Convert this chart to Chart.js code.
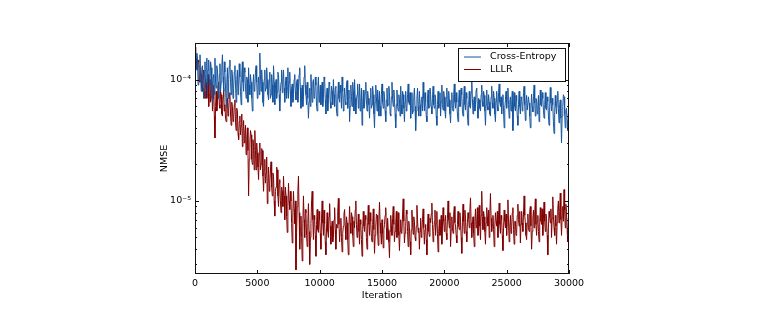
<!DOCTYPE html>
<html>
<head>
<meta charset="utf-8">
<script src="https://cdn.jsdelivr.net/npm/chart.js@4"></script>
<style>
  html, body { margin: 0; padding: 0; background: #fff; }
  #wrap { width: 762px; height: 326px; }
</style>
</head>
<body>
<div id="wrap"><canvas id="chart" width="762" height="326"></canvas></div>
<script>
// NMSE per iteration, one sample every 50 iterations, in units of 1e-6
// (one row = 1000 iterations)
const STEP = 50;
const crossEntropy = [
  185, 140, 120, 165, 150, 90, 95, 130, 160, 110, 80, 125, 130, 85, 70, 115, 140, 90, 100, 150,
  75, 120, 145, 100, 90, 140, 125, 80, 65, 105, 110, 75, 150, 95, 85, 130, 120, 90, 70, 110,
  135, 80, 95, 125, 160, 105, 80, 140, 115, 85, 60, 95, 125, 70, 100, 130, 145, 95, 75, 120,
  110, 70, 85, 115, 130, 90, 65, 100, 120, 75, 90, 135, 105, 80, 62, 110, 140, 95, 80, 125,
  115, 85, 70, 105, 100, 65, 125, 90, 75, 110, 95, 70, 55, 90, 110, 80, 85, 115, 130, 95,
  70, 90, 105, 75, 165, 110, 80, 120, 95, 65, 60, 100, 120, 80, 85, 125, 100, 75, 68, 95,
  115, 70, 75, 110, 90, 65, 130, 95, 62, 85, 100, 70, 80, 115, 110, 75, 55, 80, 95, 120,
  78, 100, 120, 85, 65, 90, 105, 70, 85, 125, 70, 95, 115, 80, 60, 85, 92, 65, 75, 100,
  110, 80, 68, 95, 100, 65, 80, 110, 125, 85, 58, 75, 90, 60, 72, 105, 130, 90, 75, 62,
  95, 70, 48, 65, 85, 60, 110, 80, 65, 95, 100, 70, 72, 105, 90, 60, 55, 85, 105, 65,
  75, 90, 62, 80, 95, 60, 70, 105, 100, 68, 52, 75, 85, 55, 68, 95, 92, 65, 58, 88,
  80, 62, 100, 75, 60, 85, 88, 55, 50, 72, 95, 70, 65, 90, 78, 58, 105, 80, 55, 70,
  85, 65, 62, 90, 98, 58, 70, 82, 45, 60, 90, 72, 60, 95, 80, 55, 100, 70, 52, 68,
  75, 92, 58, 70, 92, 55, 65, 85, 42, 62, 82, 58, 60, 78, 95, 68, 55, 80, 70, 62,
  48, 70, 85, 58, 62, 88, 75, 52, 40, 65, 90, 72, 55, 82, 68, 50, 80, 60, 50, 75,
  92, 65, 58, 80, 72, 55, 45, 68, 85, 60, 62, 88, 78, 52, 50, 72, 95, 68, 60, 82,
  70, 52, 40, 62, 82, 60, 55, 75, 68, 50, 88, 62, 52, 80, 75, 58, 45, 65, 80, 55,
  58, 75, 92, 65, 62, 78, 48, 60, 78, 52, 55, 72, 85, 60, 38, 55, 70, 85, 60, 50,
  80, 62, 50, 68, 72, 55, 95, 70, 55, 78, 65, 50, 45, 70, 82, 58, 60, 85, 75, 60,
  52, 70, 88, 62, 58, 75, 70, 50, 42, 62, 80, 58, 62, 78, 50, 66, 90, 62, 56, 80,
  72, 55, 48, 70, 85, 60, 60, 80, 68, 52, 44, 65, 78, 58, 55, 75, 92, 65, 58, 78,
  65, 52, 45, 68, 82, 60, 60, 85, 75, 55, 50, 70, 88, 62, 56, 78, 70, 52, 42, 62,
  80, 60, 58, 78, 100, 70, 52, 65, 72, 55, 62, 82, 85, 60, 48, 70, 68, 58, 55, 75,
  90, 66, 60, 80, 74, 55, 42, 62, 82, 60, 56, 75, 65, 52, 50, 72, 88, 64, 58, 80,
  70, 52, 45, 66, 80, 60, 55, 78, 92, 65, 60, 72, 52, 68, 75, 55, 40, 58, 68, 80,
  58, 70, 85, 62, 48, 65, 72, 55, 62, 80, 38, 56, 78, 60, 55, 74, 66, 50, 42, 62,
  80, 60, 52, 72, 70, 55, 60, 78, 88, 62, 46, 65, 74, 56, 56, 72, 64, 50, 40, 58,
  76, 60, 54, 72, 90, 64, 50, 70, 68, 52, 58, 74, 45, 60, 82, 62, 60, 78, 70, 56,
  48, 62, 78, 58, 56, 72, 66, 50, 42, 60, 86, 64, 55, 70, 62, 45, 36, 52, 74, 60,
  52, 66, 80, 58, 44, 62, 68, 48, 30, 50, 60, 75, 72, 52, 40, 55, 58, 46, 38, 52, 45
];
const lllr = [
  185, 165, 150, 125, 120, 145, 140, 100, 95, 120, 110, 85, 80, 105, 120, 80, 70, 100, 95, 70,
  85, 110, 60, 75, 100, 65, 72, 95, 55, 70, 90, 50, 33, 60, 80, 55, 65, 90, 95, 62,
  58, 80, 75, 52, 50, 72, 85, 55, 62, 48, 45, 68, 70, 50, 55, 75, 78, 52, 42, 65,
  60, 45, 48, 62, 68, 44, 38, 58, 55, 36, 32, 45, 50, 35, 42, 52, 28, 38, 46, 30,
  36, 42, 24, 32, 40, 26, 11, 22, 30, 38, 35, 22, 20, 32, 28, 18, 38, 26, 18, 30,
  25, 19, 15, 24, 30, 18, 20, 27, 26, 16, 12, 18, 22, 14, 17, 23, 9.5, 14, 19, 12,
  14, 18, 21, 13, 11, 17, 16, 10, 7.5, 12, 13, 19, 18, 11, 9, 14, 15, 10, 8, 13,
  12, 9, 16, 11, 7, 13, 11, 7.5, 5.5, 9, 14, 10, 8.5, 12, 10, 6.5, 4.5, 8, 12, 8.5,
  6.5, 10, 2.7, 5.5, 9, 12, 16, 8, 4, 6, 7.5, 5, 3.2, 6.5, 11, 7, 5, 8.5, 8, 5.2,
  4.2, 6.5, 9.5, 5.6, 3, 5, 6.5, 9.8, 12, 7, 4.8, 7.6, 7, 5.2, 3.5, 6.4, 8.5, 5.8, 5.5, 8.2,
  7, 5.4, 4, 7.2, 10, 6.6, 5.2, 8.4, 6.5, 4.6, 3.6, 6, 8, 5.6, 5, 7.4, 9.5, 6.2, 4.4, 5.8,
  6.8, 4.6, 5, 7, 8.8, 5.8, 4, 6.4, 6, 8.2, 10.5, 6.4, 4.6, 5.8, 7.2, 5, 3.8, 5.4, 6.2, 7.8,
  8.5, 6.2, 4.8, 7.4, 6.6, 4.8, 3.6, 6.2, 9, 6.6, 5.4, 8, 7.4, 5.2, 4.2, 6.8, 6, 8.4, 10, 6.4,
  5, 6, 7.8, 5.6, 4.4, 7, 6.4, 4.8, 3.5, 5.8, 8.2, 6.2, 5.6, 7.6, 7, 5, 4, 6.6, 9.2, 6.4,
  5.2, 8, 6.8, 5, 4.6, 6.4, 8.6, 5.8, 3.7, 5.2, 6.2, 7.8, 7.6, 5.4, 4.3, 7, 9.8, 6.6, 5.4, 4.4,
  7, 5.4, 4.1, 5.8, 6.4, 7.6, 8.8, 6, 4.8, 7.2, 5.8, 4.6, 3.4, 5.6, 7.6, 6.2, 5.2, 7.2, 9, 6.4,
  4.6, 5.6, 6.6, 8.2, 5, 6.2, 8, 5.2, 3.9, 5.6, 7, 5.4, 5.6, 7.8, 10.4, 6.8, 4.5, 5.4, 6.2, 8.4,
  7.8, 5.6, 4.2, 6.8, 6, 4.6, 3.6, 5.8, 8.4, 6.6, 5.3, 7.4, 6.8, 5, 4.7, 6.2, 9.2, 7, 5.5, 6,
  4, 5.6, 7.2, 5, 5.7, 7, 8.6, 6, 4.4, 5.8, 6.4, 4.8, 3.6, 6.2, 7.8, 5.6, 5.1, 7.2, 6.6, 7.8,
  9.6, 6.4, 4.6, 5.6, 6.8, 8.4, 5.2, 6.6, 8.2, 5.4, 3.8, 5.6, 7, 5.2, 5.8, 7.6, 4.4, 6.2, 8.8, 6.8,
  5.6, 6.8, 7.6, 5.4, 4.8, 7.2, 10, 7, 6, 8, 4.2, 5.8, 7.4, 6, 5.4, 7.8, 9, 6.6, 6.2, 5.2,
  4.5, 6.4, 8.2, 6.2, 5.8, 8, 6.8, 5, 3.7, 6.6, 9.4, 6.8, 5.4, 8.4, 7.2, 5.6, 4.6, 6.6, 8, 7.2,
  6, 8.4, 10.6, 6.6, 5, 6.4, 7.4, 5.4, 4.2, 6.8, 8.6, 6, 6.4, 8.8, 5.2, 7, 9.2, 6.2, 4.8, 7.6,
  12, 7.4, 5.8, 8.2, 7.4, 5.6, 4.4, 6.6, 8.8, 7.4, 6.2, 8.4, 5, 7.8, 11.5, 7.2, 5.6, 6.4, 7.6, 5.8,
  4.2, 6.2, 8, 6.8, 6.2, 8.2, 5, 7, 9.6, 6.4, 5.4, 7.6, 7, 5.2, 3.9, 6, 8.4, 6.8, 6, 7.8,
  5.2, 7.4, 10.2, 6.6, 4.6, 6.2, 7.6, 5.4, 6, 8, 8.8, 5.8, 4.4, 6.8, 6.8, 5.2, 5.4, 7.6, 9.4, 7,
  6.2, 8.2, 4.5, 6.4, 8.2, 6.6, 5.6, 7.8, 11, 7.6, 6.6, 5.2, 4.8, 6.6, 7.8, 6, 5.6, 8.2, 9, 6.2,
  4, 5.6, 7.2, 8.4, 6, 7.8, 10.4, 6.4, 5.2, 6.8, 7.6, 5.6, 4.6, 6.6, 8.8, 6.8, 6.4, 8.6, 5.2, 7.2,
  9.8, 6.8, 5.6, 7.8, 7.2, 5.2, 3.6, 6, 8.2, 7.4, 6.6, 8.6, 5, 7.2, 10.8, 7.4, 6, 5.2, 7.6, 6.2,
  4.4, 6.6, 8.6, 10, 6.6, 8.2, 11.6, 7, 5.2, 7.4, 9, 6.8, 12.4, 8.4, 6, 9.4, 8, 5.8, 4.6, 7.2, 6.2
];
const seriesLabels = ["Cross-Entropy", "LLLR"];
const seriesColors = ["#15549e", "#800000"];
const xTicks = [0, 5000, 10000, 15000, 20000, 25000, 30000];
const yTicks = [1e-5, 1e-4];
const yMin = 2.5e-6, yMax = 2e-4;

const FONT = { family: "'DejaVu Sans'", size: 9.5 };
const toPoints = arr => arr.map((v, i) => ({ x: i * STEP, y: v * 1e-6 }));
const sup = { "-": "\u207B", "0": "\u2070", "1": "\u00B9", "2": "\u00B2", "3": "\u00B3",
  "4": "\u2074", "5": "\u2075", "6": "\u2076", "7": "\u2077", "8": "\u2078", "9": "\u2079" };
const powLabel = v => "10" + String(Math.round(Math.log10(v))).split("").map(c => sup[c]).join("");

// frame + inward ticks, matplotlib style
const framePlugin = {
  id: "frame",
  afterDatasetsDraw(chart) {
    const { ctx, chartArea: a, scales: { x, y } } = chart;
    ctx.save();
    ctx.strokeStyle = "#111";
    ctx.lineWidth = 1;
    ctx.strokeRect(a.left + 0.5, a.top + 0.5, a.right - a.left - 1, a.bottom - a.top - 1);
    ctx.beginPath();
    xTicks.forEach(t => {
      const px = Math.round(x.getPixelForValue(t)) + 0.5;
      ctx.moveTo(px, a.bottom); ctx.lineTo(px, a.bottom - 4);
      ctx.moveTo(px, a.top); ctx.lineTo(px, a.top + 4);
    });
    for (let e = Math.floor(Math.log10(yMin)); e <= Math.ceil(Math.log10(yMax)); e++) {
      for (let k = 1; k <= 9; k++) {
        const v = k * Math.pow(10, e);
        if (v < yMin || v > yMax) continue;
        const len = k === 1 ? 4 : 2;
        const py = Math.round(y.getPixelForValue(v)) + 0.5;
        ctx.moveTo(a.left, py); ctx.lineTo(a.left + len, py);
        ctx.moveTo(a.right, py); ctx.lineTo(a.right - len, py);
      }
    }
    ctx.stroke();

    // legend box inside the plot
    const bx = 458, by = 48, bw = 107, bh = 33;
    ctx.fillStyle = "#fff";
    ctx.fillRect(bx, by, bw, bh);
    ctx.strokeRect(bx + 0.5, by + 0.5, bw, bh);
    ctx.font = "9.5px 'DejaVu Sans'";
    ctx.textBaseline = "middle";
    chart.data.datasets.forEach((ds, i) => {
      const ly = by + 9 + i * 12.5;
      ctx.strokeStyle = ds.borderColor;
      ctx.beginPath();
      ctx.moveTo(bx + 6, ly); ctx.lineTo(bx + 23, ly);
      ctx.stroke();
      ctx.fillStyle = "#000";
      ctx.fillText(ds.label, bx + 32, ly);
    });
    ctx.restore();
  }
};

new Chart(document.getElementById("chart"), {
  type: "line",
  data: {
    datasets: [
      { label: seriesLabels[0], data: toPoints(crossEntropy), borderColor: seriesColors[0] },
      { label: seriesLabels[1], data: toPoints(lllr), borderColor: seriesColors[1] }
    ]
  },
  options: {
    responsive: false,
    animation: false,
    parsing: false,
    normalized: true,
    elements: {
      line: { borderWidth: 1, tension: 0 },
      point: { radius: 0 }
    },
    layout: { padding: { left: 0, right: 193, top: 43, bottom: 0 } },
    plugins: { legend: { display: false }, tooltip: { enabled: false } },
    scales: {
      x: {
        type: "linear",
        min: 0,
        max: 30000,
        afterBuildTicks: s => { s.ticks = xTicks.map(v => ({ value: v })); },
        afterFit: s => { s.height = 52; },
        grid: { display: false, drawTicks: false },
        border: { display: false },
        ticks: { color: "#000", font: FONT, padding: 4, maxRotation: 0, callback: v => String(v) },
        title: { display: true, text: "Iteration", color: "#000", font: FONT, padding: { top: 0, bottom: 25 } }
      },
      y: {
        type: "logarithmic",
        min: yMin,
        max: yMax,
        afterBuildTicks: s => { s.ticks = yTicks.map(v => ({ value: v })); },
        afterFit: s => { s.width = 195; },
        grid: { display: false, drawTicks: false },
        border: { display: false },
        ticks: { color: "#000", font: FONT, padding: 4, callback: v => powLabel(v) },
        title: { display: true, text: "NMSE", color: "#000", font: FONT, padding: { top: 159, bottom: 0 } }
      }
    }
  },
  plugins: [framePlugin]
});
</script>
</body>
</html>
